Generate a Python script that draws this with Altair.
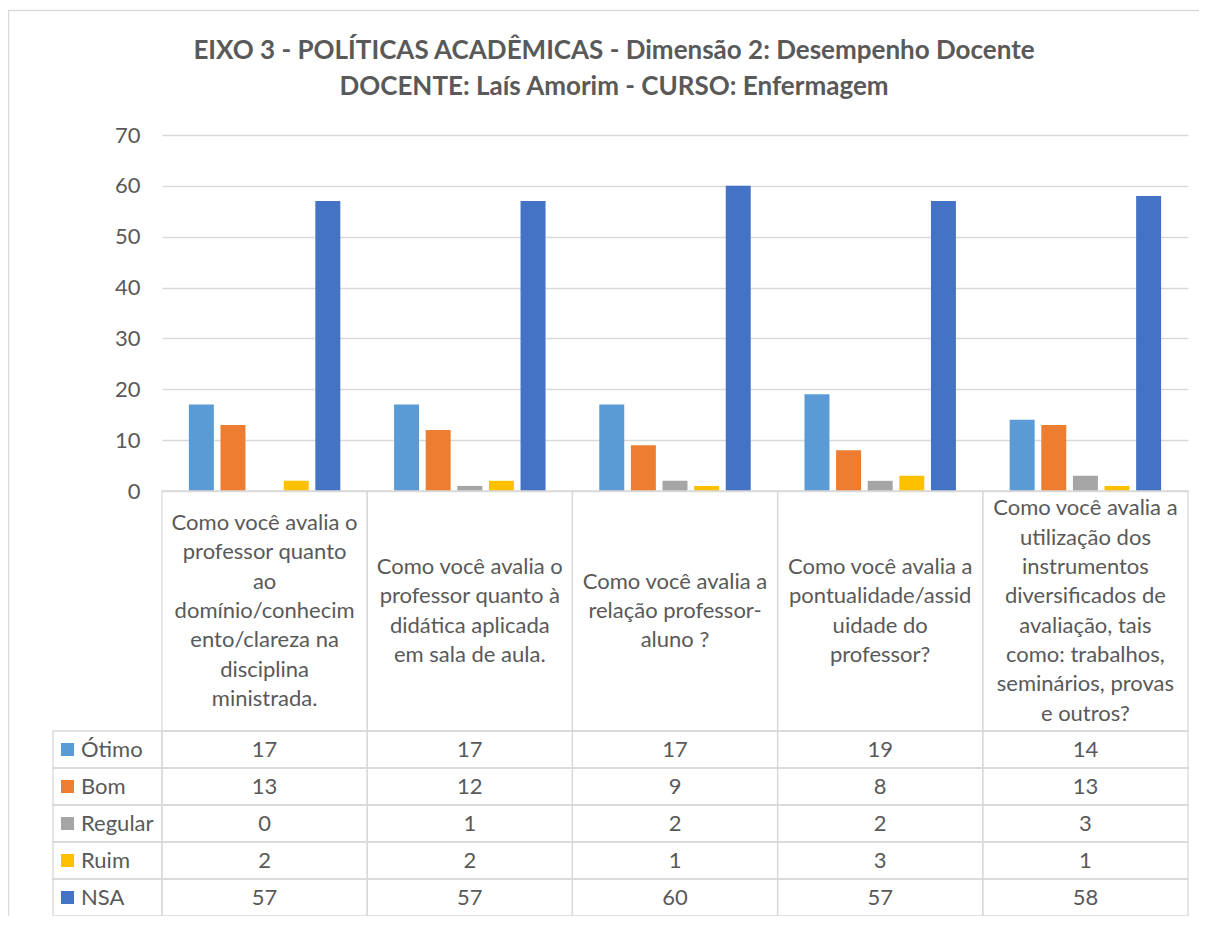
import altair as alt
import pandas as pd

# ---------------- data ----------------
categorias = [
    "Como você avalia o professor quanto ao domínio/conhecimento/clareza na disciplina ministrada.",
    "Como você avalia o professor quanto à didática aplicada em sala de aula.",
    "Como você avalia a relação professor-aluno ?",
    "Como você avalia a pontualidade/assiduidade do professor?",
    "Como você avalia a utilização dos instrumentos diversificados de avaliação, tais como: trabalhos, seminários, provas e outros?",
]
rotulos = [
    ["Como você avalia o", "professor quanto", "ao", "domínio/conhecim", "ento/clareza na", "disciplina", "ministrada."],
    ["Como você avalia o", "professor quanto à", "didática aplicada", "em sala de aula."],
    ["Como você avalia a", "relação professor-", "aluno ?"],
    ["Como você avalia a", "pontualidade/assid", "uidade do", "professor?"],
    ["Como você avalia a", "utilização dos", "instrumentos", "diversificados de", "avaliação, tais", "como: trabalhos,", "seminários, provas", "e outros?"],
]
series = ["Ótimo", "Bom", "Regular", "Ruim", "NSA"]
otimo = [17, 17, 17, 19, 14]
bom = [13, 12, 9, 8, 13]
regular = [0, 1, 2, 2, 3]
ruim = [2, 2, 1, 3, 1]
nsa = [57, 57, 60, 57, 58]
cores = ["#5B9BD5", "#ED7D31", "#A5A5A5", "#FFC000", "#4472C4"]
titulo = [
    "EIXO 3 - POLÍTICAS ACADÊMICAS - Dimensão 2: Desempenho Docente",
    "DOCENTE: Laís Amorim - CURSO: Enfermagem",
]

valores = [otimo, bom, regular, ruim, nsa]
rows = []
for s, vals in zip(series, valores):
    for c, v in zip(categorias, vals):
        rows.append({"categoria": c, "serie": s, "valor": v})
df = pd.DataFrame(rows)

head_rows = []
for c, linhas in zip(categorias, rotulos):
    n = len(linhas)
    for i, t in enumerate(linhas):
        head_rows.append({"categoria": c, "texto": t, "pos": i - (n - 1) / 2})
df_head = pd.DataFrame(head_rows)
df_cat = pd.DataFrame({"categoria": categorias})
df_ser = pd.DataFrame({"serie": series})
df_tit = pd.DataFrame({"texto": titulo, "linha": list(range(len(titulo)))})
df_one = pd.DataFrame({"k": [0]})

# ---------------- layout ----------------
W = 1026
H_BARS = 356
H_HEAD = 240
ROW = 37
T0 = H_BARS + H_HEAD
H = T0 + ROW * len(series)
LH = 29.3
HC = (H_BARS + T0) / 2

FONT = "Lato"
TXT = "#595959"
GRID = "#D9D9D9"
FS = 22

xs = alt.X("categoria:N", sort=categorias,
           scale=alt.Scale(paddingInner=0, paddingOuter=0), axis=None)
ys_tab = alt.Y("serie:N", sort=series,
               scale=alt.Scale(type="band", domain=series, range=[T0, H],
                               paddingInner=0, paddingOuter=0),
               axis=None)
color = alt.Color("serie:N", sort=series,
                  scale=alt.Scale(domain=series, range=cores), legend=None)

frame = alt.Chart(df_one).mark_rect(fill="transparent", stroke=GRID, strokeWidth=1.3).encode(
    x=alt.value(-153.5), x2=alt.value(1200), y=alt.value(-124.5), y2=alt.value(1000)
)

title_text = alt.Chart(df_tit).mark_text(
    fontSize=26, font=FONT, fontWeight="bold", color=TXT, align="center", baseline="alphabetic"
).encode(
    x=alt.value(452),
    y=alt.Y("linha:Q", scale=alt.Scale(domain=[0, 1], range=[-76.5, -40]), axis=None),
    text="texto:N",
)

bars = alt.Chart(df).mark_bar().encode(
    x=xs,
    xOffset=alt.XOffset("serie:N", sort=series,
                        scale=alt.Scale(domain=series, paddingInner=0.21, paddingOuter=0.85)),
    y=alt.Y("valor:Q",
            scale=alt.Scale(domain=[0, 70], range=[H_BARS, 0], nice=False, zero=True),
            axis=alt.Axis(values=list(range(0, 71, 10)), grid=True, gridColor=GRID,
                          gridWidth=1.3, domain=False, ticks=False, labelPadding=22,
                          labelFontSize=FS, labelFont=FONT, labelColor=TXT, title=None)),
    color=color,
)

head_cells = alt.Chart(df_cat).mark_rect(fill="transparent", stroke=GRID, strokeWidth=1.3).encode(
    x=xs, y=alt.value(H_BARS), y2=alt.value(T0)
)
head_text = alt.Chart(df_head).mark_text(
    fontSize=FS, font=FONT, color=TXT, align="center", baseline="middle"
).encode(
    x=xs,
    y=alt.Y("pos:Q", scale=alt.Scale(domain=[-4, 4], range=[HC - 4 * LH, HC + 4 * LH]), axis=None),
    text="texto:N",
)

cells = alt.Chart(df).mark_rect(fill="transparent", stroke=GRID, strokeWidth=1.3).encode(
    x=xs, y=ys_tab
)
cell_text = alt.Chart(df).mark_text(
    fontSize=FS, font=FONT, color=TXT, align="center", baseline="middle"
).encode(x=xs, y=ys_tab, text="valor:Q")

left_cells = alt.Chart(df_ser).mark_rect(fill="transparent", stroke=GRID, strokeWidth=1.3).encode(
    x=alt.value(-109), x2=alt.value(0), y=ys_tab
)
keys = alt.Chart(df_ser).mark_square(size=169, opacity=1).encode(
    x=alt.value(-94.5), y=ys_tab, color=color
)
key_text = alt.Chart(df_ser).mark_text(
    fontSize=FS, font=FONT, color=TXT, align="left", baseline="middle"
).encode(x=alt.value(-81), y=ys_tab, text="serie:N")

chart = alt.layer(
    frame, title_text, bars, head_cells, head_text, cells, cell_text, left_cells, keys, key_text
).resolve_scale(
    y="independent"
).properties(
    width=W, height=H,
    padding={"left": 154, "top": 127, "right": 11, "bottom": 0},
    autosize=alt.AutoSizeParams(type="none"),
).configure_view(stroke=None)

chart.save("out.html", embed_options={"renderer": "svg", "actions": False})
